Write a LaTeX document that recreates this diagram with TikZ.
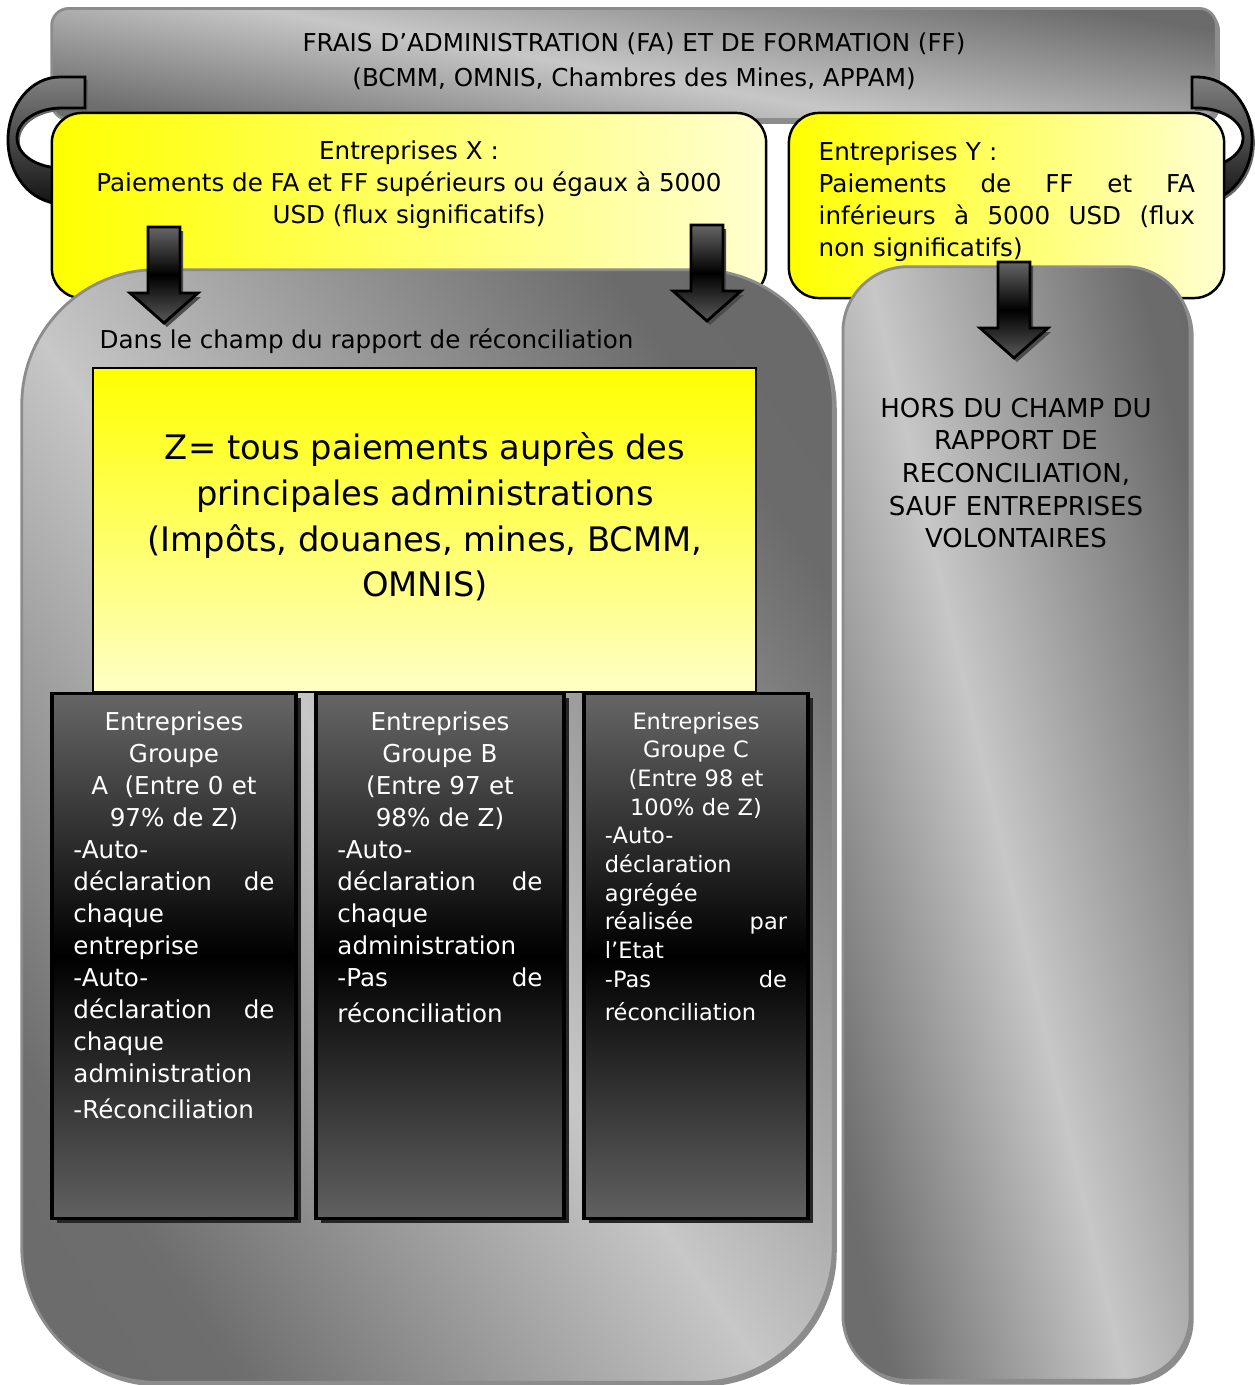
\documentclass[tikz,border=0pt]{standalone}
\usepackage{fontspec}
\setmainfont{DejaVu Sans}
\usetikzlibrary{positioning,shadows}
\setlength{\parindent}{0pt}

\pgfdeclarehorizontalshading{metal}{100bp}{color(0bp)=(black!60); color(25bp)=(black!57); color(48bp)=(black!22); color(75bp)=(black!58); color(100bp)=(black!60)}

\tikzset{
  panel/.style={shade, shading=metal, draw=black!45, line width=0.8pt,
    drop shadow={shadow xshift=1pt, shadow yshift=-1.2pt, fill=black!45, opacity=1}},
  yellowbox/.style={draw=black, line width=0.7pt, rounded corners=0.3cm, left color=yellow, right color=yellow!18},
  groupbox/.style={draw=black, line width=0.9pt, top color=black!60, bottom color=black!62, middle color=black, inner sep=0pt,
    drop shadow={shadow xshift=1.3pt, shadow yshift=-1.3pt, fill=black!85, opacity=1}},
  grouptext/.style={text=white, inner sep=0pt},
  band/.style={draw=black, line width=0.8pt, top color=black!50, bottom color=black!92,
    drop shadow={shadow xshift=0.8pt, shadow yshift=-0.8pt, fill=black!60, opacity=1}},
  blockarrow/.style={draw=black, line width=0.8pt, top color=black!60, bottom color=black!65, middle color=black},
  pics/downarrow/.style={code={
    \fill[black!70] (-13,4) -- (19,4) -- (19,70) -- (37,70) -- (3,100) -- (-31,70) -- (-13,70) -- cycle;
    \path[blockarrow] (-16,0) -- (16,0) -- (16,66) -- (34,66) -- (0,96) -- (-34,66) -- (-16,66) -- cycle;
  }}
}

\begin{document}
\begin{tikzpicture}[x=0.01cm, y=-0.01cm, font=\fontsize{7}{9.1}\selectfont]
  \useasboundingbox (0,0) rectangle (1254,1385);

  \node[panel, shading angle=80, rounded corners=0.17cm, minimum width=11.64cm, minimum height=1.11cm] (frais) at (634,64) {};
  \node[align=center, font=\fontsize{7}{10}\selectfont] (fraistxt) at (634,61) {FRAIS D’ADMINISTRATION (FA) ET DE FORMATION (FF)\\(BCMM, OMNIS, Chambres des Mines, APPAM)};

  \path[band] (85,77) -- (60,77) .. controls (31,77) and (8,105) .. (8,140) .. controls (8,175) and (31,203) .. (60,203) -- (66,203) -- (66,168) -- (62,168) .. controls (37,168) and (17,155) .. (17,138) .. controls (17,121) and (37,108) .. (62,108) -- (85,108) -- cycle;
  \path[band] (1192,77) -- (1197,77) .. controls (1228,77) and (1252,105) .. (1252,140) .. controls (1252,175) and (1228,203) .. (1197,203) -- (1190,203) -- (1190,168) -- (1197,168) .. controls (1222,168) and (1243,155) .. (1243,138) .. controls (1243,121) and (1222,108) .. (1197,108) -- (1192,108) -- cycle;

  \node[yellowbox, minimum width=7.14cm, minimum height=1.85cm] (boxX) at (409,205.5) {};
  \node[yellowbox, minimum width=4.35cm, minimum height=1.85cm] (boxY) at (1006.5,205.5) {};
  \node[align=center] (txtX) at (409,185) {Entreprises X :\\Paiements de FA et FF supérieurs ou égaux à 5000\\USD (flux significatifs)};
  \node[anchor=north west, text width=3.76cm, inner sep=0pt] (txtY) at (818,141) {Entreprises Y :\newline Paiements\hfill de\hfill FF\hfill et\hfill FA\newline inférieurs\hfill à\hfill 5000\hfill USD\hfill (flux\newline non significatifs)};

  \node[panel, shading angle=35, rounded corners=1.35cm, minimum width=8.11cm, minimum height=11.12cm] (champ) at (427.5,826) {};
  \node[panel, shading angle=13, rounded corners=0.65cm, minimum width=3.47cm, minimum height=11.13cm] (hors) at (1016.5,823.5) {};

  \node[anchor=west, inner sep=0pt] (champtxt) at (99,341) {Dans le champ du rapport de réconciliation};
  \node[draw=black, line width=0.6pt, top color=yellow, bottom color=yellow!22, minimum width=6.63cm, minimum height=3.24cm] (zbox) at (424.5,530) {};
  \node[align=center, font=\fontsize{9.6}{13}\selectfont] (ztxt) at (425,517) {Z= tous paiements auprès des\\principales administrations\\(Impôts, douanes, mines, BCMM,\\OMNIS)};
  \node[align=center, font=\fontsize{7.4}{9.25}\selectfont] (horstxt) at (1016,473) {HORS DU CHAMP DU\\RAPPORT DE\\RECONCILIATION,\\SAUF ENTREPRISES\\VOLONTAIRES};

  \node[groupbox, minimum width=2.44cm, minimum height=5.24cm] (grpA) at (174,956) {};
  \node[groupbox, minimum width=2.48cm, minimum height=5.24cm] (grpB) at (440,956) {};
  \node[groupbox, minimum width=2.24cm, minimum height=5.24cm] (grpC) at (696,956) {};

  \node[grouptext, text width=2.01cm, below=0.19cm of grpA.north] (txtA) {{\centering Entreprises\\Groupe\\A\ \ (Entre 0 et\\97\% de Z)\par}
    -Auto-\newline déclaration\hfill de\newline chaque\newline entreprise\newline -Auto-\newline déclaration\hfill de\newline chaque\newline administration\par\vspace{1pt}-Réconciliation};
  \node[grouptext, text width=2.05cm, below=0.19cm of grpB.north] (txtB) {{\centering Entreprises\\Groupe B\\(Entre 97 et\\98\% de Z)\par}
    -Auto-\newline déclaration\hfill de\newline chaque\newline administration\newline -Pas\hfill de\par\vspace{1pt}réconciliation};
  \node[grouptext, text width=1.82cm, below=0.19cm of grpC.north, font=\fontsize{6.4}{8.15}\selectfont] (txtC) {{\centering Entreprises\\Groupe C\\(Entre 98 et\\100\% de Z)\par}
    -Auto-\newline déclaration\newline agrégée\newline réalisée\hfill par\newline l’Etat\newline -Pas\hfill de\par\vspace{1.5pt}réconciliation};

  \coordinate (flecheA) at (164,227);
  \coordinate (flecheB) at (707,225);
  \coordinate (flecheC) at (1014,262);
  \pic at (flecheA) {downarrow};
  \pic at (flecheB) {downarrow};
  \pic at (flecheC) {downarrow};
\end{tikzpicture}
\end{document}
